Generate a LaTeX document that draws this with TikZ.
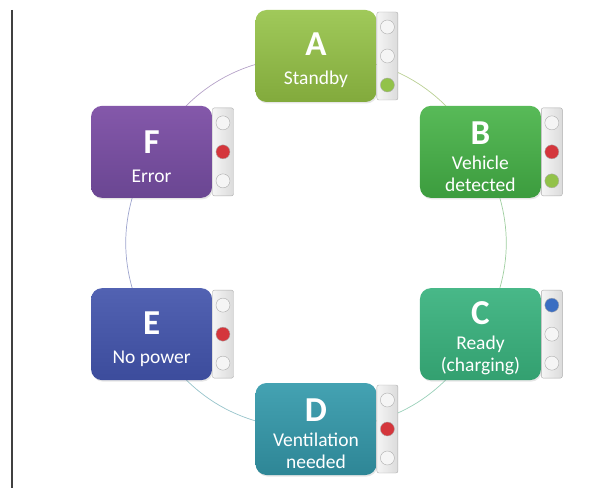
\documentclass[tikz,border=0pt]{standalone}
\usepackage{fontspec}
\setmainfont{Carlito}
\usepackage{xcolor}
\usetikzlibrary{positioning, shadows, backgrounds}

\definecolor{aTop}{HTML}{A0C95A}
\definecolor{aBot}{HTML}{82AA3C}
\definecolor{bTop}{HTML}{58BA58}
\definecolor{bBot}{HTML}{3C9C3E}
\definecolor{cTop}{HTML}{48B888}
\definecolor{cBot}{HTML}{33A070}
\definecolor{dTop}{HTML}{44A2B2}
\definecolor{dBot}{HTML}{2E8696}
\definecolor{eTop}{HTML}{5262B2}
\definecolor{eBot}{HTML}{3C4C9C}
\definecolor{fTop}{HTML}{8458AA}
\definecolor{fBot}{HTML}{6A4692}
\definecolor{lampRed}{HTML}{D4363C}
\definecolor{lampGreen}{HTML}{92C24A}
\definecolor{lampBlue}{HTML}{3B6EC2}

\newcommand{\stletter}[1]{{\fontsize{35}{35}\selectfont\bfseries\rule{0pt}{32pt}#1}}

\begin{document}
\begin{tikzpicture}[x=1pt, y=1pt,
   statebox/.style={rounded corners=11pt, minimum width=121pt, minimum height=92pt,
      inner sep=0pt, text=white, align=center, font=\fontsize{19.5}{22}\selectfont,
      drop shadow={opacity=0.2, shadow xshift=1pt, shadow yshift=-1.5pt}},
   lightbar/.style={draw=gray!65, rounded corners=2pt, minimum width=21pt,
      minimum height=88pt, inner sep=0pt, left color=gray!8, right color=gray!28},
   lamp/.style={circle, draw=gray!65, minimum size=14pt, inner sep=0pt, fill=#1},
   lamp/.default=gray!8,
   ring/.style={line width=0.7pt}]
   \useasboundingbox (0,0) rectangle (607,488);
   \draw[line width=1.4pt, black!75] (12,478) -- (12,0);

   \begin{scope}[shift={(316,245)}]
   \node[statebox, top color=aTop, bottom color=aBot] (A) at (90:187)  {\stletter{A}\\[7pt]Standby};
   \node[statebox, top color=bTop, bottom color=bBot] (B) at (29:188)  {\stletter{B}\\[3pt]Vehicle\\detected};
   \node[statebox, top color=cTop, bottom color=cBot] (C) at (-29:188) {\stletter{C}\\[3pt]Ready\\(charging)};
   \node[statebox, top color=dTop, bottom color=dBot] (D) at (-90:186) {\stletter{D}\\[3pt]Ventilation\\needed};
   \node[statebox, top color=eTop, bottom color=eBot] (E) at (209:188) {\stletter{E}\\[7pt]No power};
   \node[statebox, top color=fTop, bottom color=fBot] (F) at (151:188) {\stletter{F}\\[7pt]Error};
   \end{scope}

   % traffic lights
   \node[lightbar] (pA) [right=0pt of A] {};
   \node[lamp] (A1) at ([yshift=29pt]pA.center) {};
   \node[lamp] (A2) at (pA.center) {};
   \node[lamp=lampGreen] (A3) at ([yshift=-29pt]pA.center) {};

   \node[lightbar] (pB) [right=0pt of B] {};
   \node[lamp] (B1) at ([yshift=29pt]pB.center) {};
   \node[lamp=lampRed] (B2) at (pB.center) {};
   \node[lamp=lampGreen] (B3) at ([yshift=-29pt]pB.center) {};

   \node[lightbar] (pC) [right=0pt of C] {};
   \node[lamp=lampBlue] (C1) at ([yshift=29pt]pC.center) {};
   \node[lamp] (C2) at (pC.center) {};
   \node[lamp] (C3) at ([yshift=-29pt]pC.center) {};

   \node[lightbar] (pD) [right=0pt of D] {};
   \node[lamp] (D1) at ([yshift=29pt]pD.center) {};
   \node[lamp=lampRed] (D2) at (pD.center) {};
   \node[lamp] (D3) at ([yshift=-29pt]pD.center) {};

   \node[lightbar] (pE) [right=0pt of E] {};
   \node[lamp] (E1) at ([yshift=29pt]pE.center) {};
   \node[lamp=lampRed] (E2) at (pE.center) {};
   \node[lamp] (E3) at ([yshift=-29pt]pE.center) {};

   \node[lightbar] (pF) [right=0pt of F] {};
   \node[lamp] (F1) at ([yshift=29pt]pF.center) {};
   \node[lamp=lampRed] (F2) at (pF.center) {};
   \node[lamp] (F3) at ([yshift=-29pt]pF.center) {};

   % the cycle behind the boxes
   \begin{scope}[on background layer]
   \draw[ring, aBot!55] (A.center) to[bend left=30] (B.center);
   \draw[ring, bBot!50] (B.center) to[bend left=29] (C.center);
   \draw[ring, cBot!50] (C.center) to[bend left=30] (D.center);
   \draw[ring, dBot!50] (D.center) to[bend left=30] (E.center);
   \draw[ring, eBot!50] (E.center) to[bend left=29] (F.center);
   \draw[ring, fBot!50] (F.center) to[bend left=30] (A.center);
   \end{scope}
\end{tikzpicture}
\end{document}
